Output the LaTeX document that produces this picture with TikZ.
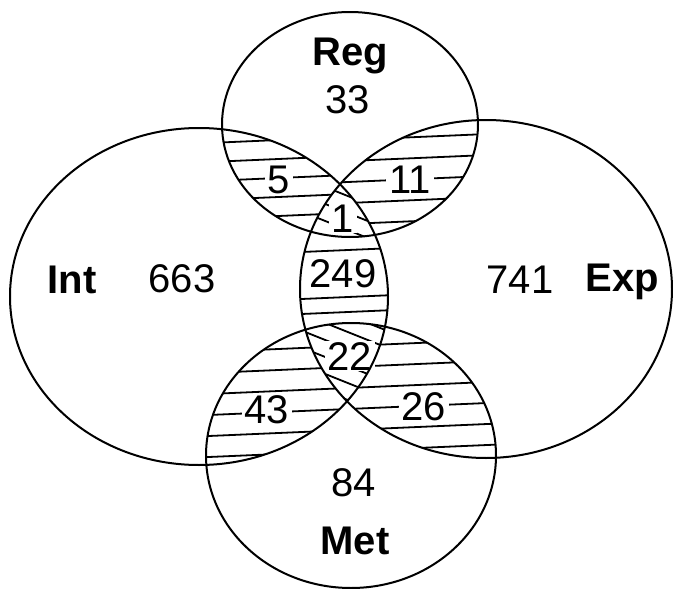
\documentclass[tikz,border=0pt]{standalone}
\usepackage{fontspec}
\setmainfont{Liberation Sans}
\newcommand{\regset}{(350,124.5) ellipse [x radius=128, y radius=112.5]}
\newcommand{\intset}{(199,296.5) ellipse [x radius=189, y radius=168.5]}
\newcommand{\expset}{(486,289) ellipse [x radius=186, y radius=169]}
\newcommand{\metset}{(351,455.5) ellipse [x radius=145, y radius=132.5]}

\begin{document}
\begin{tikzpicture}[x=1pt, y=-1pt, line join=round,
	hatch/.style={line width=1.8pt},
	rim/.style={line width=2pt},
	setname/.style={font=\fontsize{40}{44}\selectfont\bfseries, anchor=base},
	count/.style={font=\fontsize{40}{44}\selectfont, anchor=base},
	lenscount/.style={count, fill=white, inner xsep=3pt, inner ysep=1pt}]

\useasboundingbox (0, 0) rectangle (673, 589);

\begin{scope}
	\clip \regset; \clip \intset;
	\foreach \y in {0,19,...,627}
		\draw [hatch] (0, \y) -- (673, \y-29);
\end{scope}
\begin{scope}
	\clip \regset; \clip \expset;
	\foreach \y in {8,29,...,627}
		\draw [hatch] (0, \y) -- (673, \y-29);
\end{scope}
\begin{scope}
	\clip \intset; \clip \metset;
	\foreach \y in {4,25,...,627}
		\draw [hatch] (0, \y) -- (673, \y-29);
\end{scope}
\begin{scope}
	\clip \expset; \clip \metset;
	\foreach \y in {4,25,...,627}
		\draw [hatch] (0, \y) -- (673, \y-29);
\end{scope}
\begin{scope}
	\clip \intset; \clip \expset;
	\foreach \y in {265, 312, 327}
		\draw [hatch] (0, \y) -- (673, \y-29);
\end{scope}

\begin{scope}
	\clip \regset; \clip \intset; \clip \expset;
	\fill [white] (0, 0) rectangle (673, 589);
	\foreach \y in {-266,-249,...,589}
		\draw [hatch] (0, \y) -- (673, \y+269);
\end{scope}
\begin{scope}
	\clip \metset; \clip \intset; \clip \expset;
	\fill [white] (0, 0) rectangle (673, 589);
	\foreach \y in {-266,-249,...,589}
		\draw [hatch] (0, \y) -- (673, \y+269);
\end{scope}

\node [setname] (Reg) at (350, 65) {Reg};
\node [count] (RegOnly) at (348, 113) {33};
\node [setname] (Int) at (72, 293) {Int};
\node [count] (IntOnly) at (182, 292) {663};
\node [count] (ExpOnly) at (520, 293) {741};
\node [setname] (Exp) at (622, 291) {Exp};
\node [count] (MetOnly) at (354, 496) {84};
\node [setname] (Met) at (355, 554) {Met};

\node [lenscount] (RegInt) at (279, 193) {5};
\node [lenscount] (RegExp) at (410, 193) {11};
\node [lenscount] (RegIntExp) at (343, 232) {1};
\node [lenscount] (IntExp) at (343, 287) {249};
\node [lenscount] (IntExpMet) at (350, 370) {22};
\node [lenscount] (IntMet) at (267, 423) {43};
\node [lenscount] (ExpMet) at (424, 420) {26};

\draw [rim] \regset;
\draw [rim] \intset;
\draw [rim] \expset;
\draw [rim] \metset;

\end{tikzpicture}
\end{document}
